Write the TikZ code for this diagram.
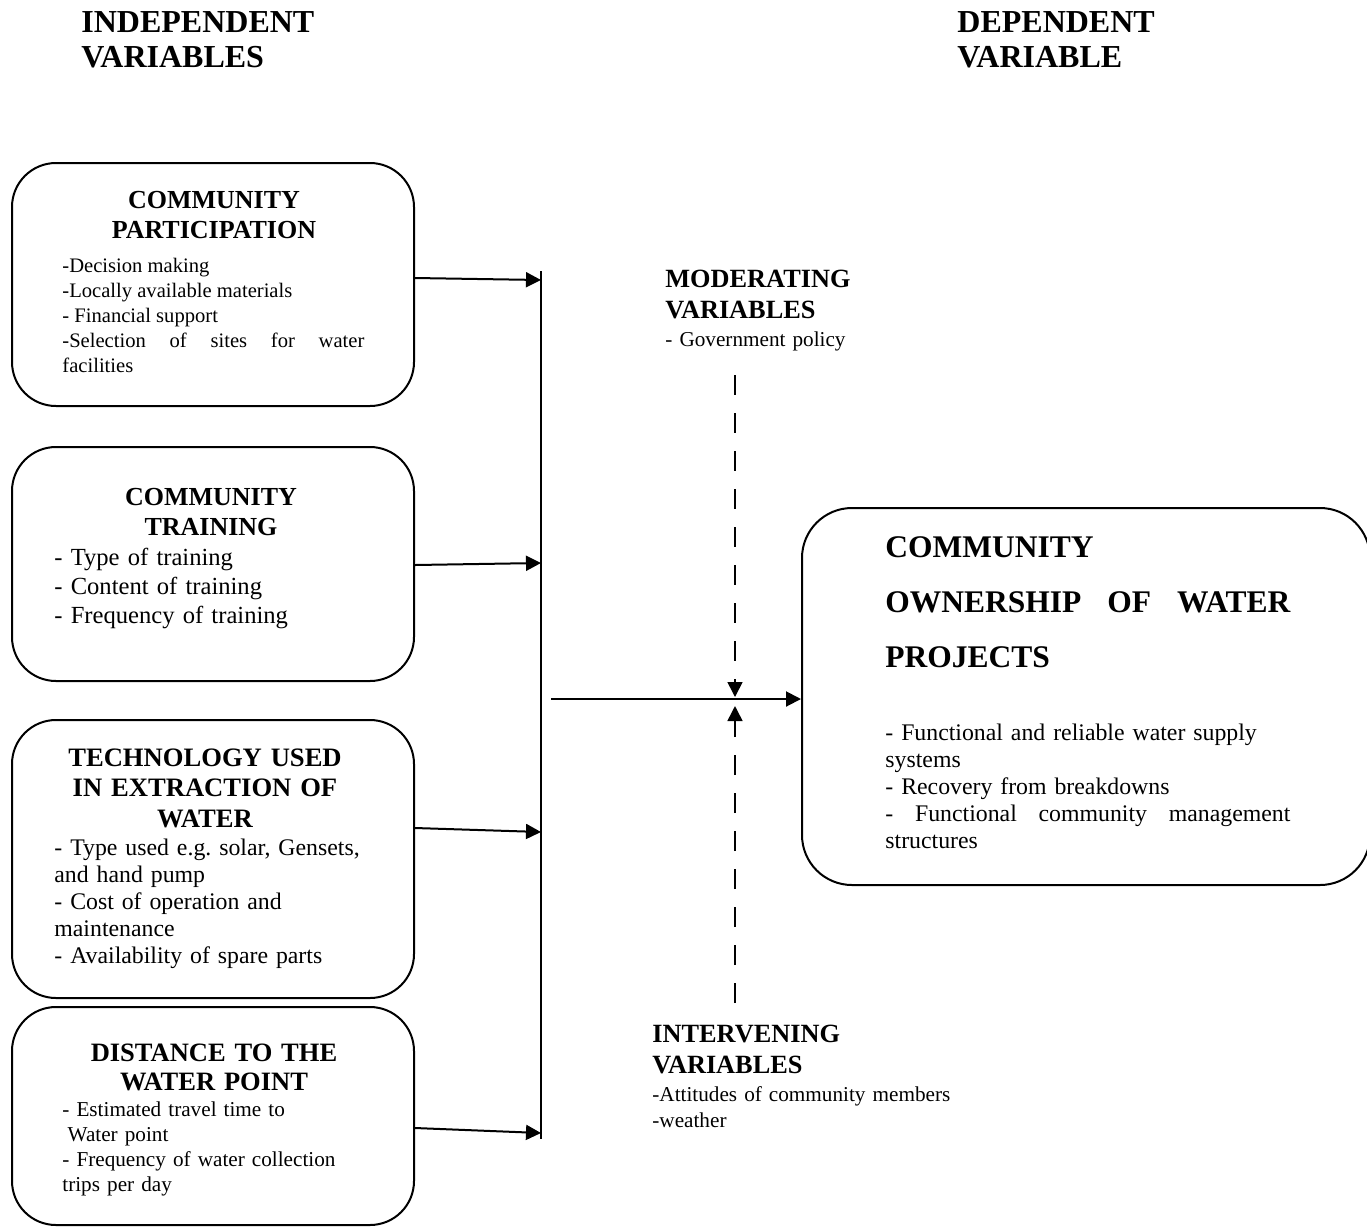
\documentclass[tikz,border=0pt]{standalone}
\usepackage{fontspec}
\setmainfont{Liberation Serif}
\usetikzlibrary{arrows.meta}
\frenchspacing

\newcommand{\setfs}[2]{\fontsize{#1}{#2}\selectfont}

\tikzset{
  varbox/.style={draw, rounded corners=22pt, line width=1pt, inner sep=0pt},
  boxhead/.style={anchor=base, inner sep=0pt, text width=190pt, align=center,
    font={\bfseries\setfs{13}{15}}},
  bodytext/.style={anchor=base west, inner sep=0pt, text width=150pt, align=left},
  link/.style={line width=1pt, -{Triangle[length=7.5pt,width=7.5pt]}},
  dashlink/.style={link, line width=0.8pt, dash pattern=on 10pt off 9pt}
}

\begin{document}
\begin{tikzpicture}[x=0.5pt, y=-0.5pt]
\useasboundingbox (0,0) rectangle (1367,1228);

% column titles
\node[bodytext, font={\bfseries\setfs{16}{17.5}}] (indep) at (81,32.5) {INDEPENDENT\\VARIABLES};
\node[bodytext, font={\bfseries\setfs{16}{17.5}}] (dep) at (957,32.5) {DEPENDENT\\VARIABLE};

% independent variables
\node[varbox, minimum width=201pt, minimum height=121.5pt] (partbox) at (213,284.5) {};
\node[boxhead] (parthead) at (214,208.6) {COMMUNITY\\PARTICIPATION};
\node[bodytext, text width=151pt, align=justify, font=\setfs{10.3}{12.5}] (partlist) at (62,272.5)
  {-Decision making\\-Locally available materials\\- Financial support\\-Selection of sites for water\linebreak facilities};

\node[varbox, minimum width=201pt, minimum height=117pt] (trainbox) at (213,564) {};
\node[boxhead] (trainhead) at (211,505.6) {COMMUNITY\\TRAINING};
\node[bodytext, font=\setfs{12.3}{14.5}] (trainlist) at (54,565.5)
  {- Type of training\\- Content of training\\- Frequency of training};

\node[varbox, minimum width=201pt, minimum height=139pt] (techbox) at (213,859) {};
\node[boxhead, font={\bfseries\setfs{13.3}{15.25}}] (techhead) at (205,766)
  {TECHNOLOGY USED\\IN EXTRACTION OF\\WATER};
\node[bodytext, text width=170pt, font=\setfs{11.9}{13.6}] (techlist) at (54,855)
  {- Type used e.g. solar, Gensets,\\and hand pump\\- Cost of operation and\\maintenance\\- Availability of spare parts};

\node[varbox, minimum width=201pt, minimum height=109pt] (distbox) at (213,1116) {};
\node[boxhead, font={\bfseries\setfs{13.25}{14.5}}] (disthead) at (214,1061.7) {DISTANCE TO THE\\WATER POINT};
\node[bodytext, font=\setfs{10.6}{12.5}] (distlist) at (62,1116.5)
  {- Estimated travel time to\\\hspace*{0.25em}Water point\\- Frequency of water collection\\trips per day};

% dependent variable
\node[varbox, rounded corners=25pt, minimum width=284pt, minimum height=188.5pt] (ownbox) at (1086,696.5) {};
\node[bodytext, text width=202.5pt, font={\bfseries\setfs{15.75}{27.5}}] (ownhead) at (885,557.5)
  {COMMUNITY\\OWNERSHIP\hfill OF\hfill WATER\\PROJECTS};
\node[bodytext, text width=202.5pt, font=\setfs{11.9}{13.5}] (ownlist) at (885,740.5)
  {- Functional and reliable water supply\\systems\\- Recovery from breakdowns\\-\hfill Functional\hfill community\hfill management\\structures};

% moderating and intervening
\node[bodytext, font={\bfseries\setfs{13.15}{15.5}}] (modhead) at (665,287.7) {MODERATING\\VARIABLES};
\node[bodytext, font=\setfs{10.6}{13}] (modlist) at (665,346.5) {- Government policy};
\node[bodytext, font={\bfseries\setfs{13.15}{15.5}}] (inthead) at (652,1042.7) {INTERVENING\\VARIABLES};
\node[bodytext, text width=170pt, font=\setfs{10.6}{13}] (intlist) at (652,1101.5)
  {-Attitudes of community members\\-weather};

% connectors
\coordinate (bustop) at (541,271);
\coordinate (busbot) at (541,1139);
\draw[line width=1pt] (bustop) -- (busbot);
\coordinate (in1) at (541,280);
\coordinate (in2) at (541,563);
\coordinate (in3) at (541,832);
\coordinate (in4) at (541,1133);
\draw[link] ([yshift=3.25pt]partbox.east) -- (in1);
\draw[link] ([yshift=-0.5pt]trainbox.east) -- (in2);
\draw[link] ([yshift=15.5pt]techbox.east) -- (in3);
\draw[link] ([yshift=-6pt]distbox.east) -- (in4);

\coordinate (merge) at (551,699);
\draw[link] (merge) -- (ownbox.west |- merge);

\coordinate (modfoot) at (735,375);
\coordinate (modtip) at (735,697);
\coordinate (intfoot) at (735,1003);
\coordinate (inttip) at (735,706);
\draw[dashlink] (modfoot) -- (modtip);
\draw[dashlink] (intfoot) -- (inttip);
\end{tikzpicture}
\end{document}
